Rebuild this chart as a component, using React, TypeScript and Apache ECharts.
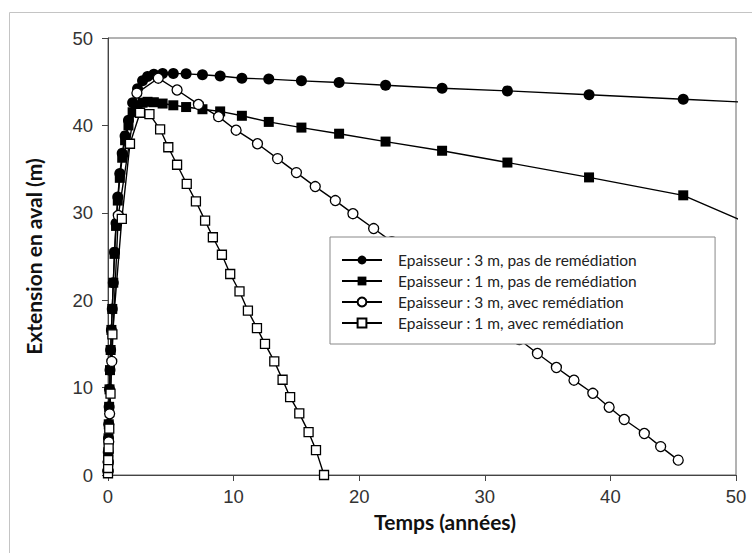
import React, { useEffect, useRef } from "react";
import * as echarts from "echarts";

// Temps (années) et extension en aval (m) pour chaque scénario
const tempsEp3Sans = [0, 0.01, 0.02, 0.04, 0.06, 0.09, 0.12, 0.16, 0.21, 0.27, 0.34, 0.42, 0.52, 0.64, 0.78, 0.94, 1.13, 1.36, 1.63, 1.96, 2.35, 2.75, 3.15, 3.65, 4.35, 5.2, 6.22, 7.52, 8.93, 10.66, 12.8, 15.4, 18.4, 22.1, 26.6, 31.8, 38.3, 45.8, 55];
const extEp3Sans = [0.5, 1.5, 2.6, 4.2, 5.8, 7.8, 9.8, 12.0, 14.3, 16.6, 19.0, 22.0, 25.5, 28.8, 31.8, 34.5, 36.8, 38.8, 40.6, 42.6, 44.2, 45.1, 45.6, 45.85, 45.95, 45.95, 45.9, 45.8, 45.65, 45.4, 45.3, 45.1, 44.9, 44.6, 44.25, 43.95, 43.5, 43.0, 42.35];

const tempsEp1Sans = [0, 0.01, 0.02, 0.04, 0.06, 0.09, 0.12, 0.16, 0.21, 0.27, 0.34, 0.42, 0.52, 0.64, 0.78, 0.94, 1.13, 1.36, 1.63, 1.96, 2.35, 2.75, 3.15, 3.65, 4.35, 5.2, 6.22, 7.52, 8.93, 10.66, 12.8, 15.4, 18.4, 22.1, 26.6, 31.8, 38.3, 45.8, 55];
const extEp1Sans = [0.5, 1.5, 2.6, 4.2, 5.8, 7.8, 9.8, 12.0, 14.3, 16.6, 19.0, 22.0, 25.3, 28.5, 31.4, 34.0, 36.3, 38.3, 40.0, 41.5, 42.3, 42.6, 42.7, 42.65, 42.5, 42.3, 42.1, 41.85, 41.6, 41.1, 40.4, 39.75, 39.05, 38.15, 37.1, 35.75, 34.05, 32.0, 26.3];

const tempsEp3Avec = [0, 0.02, 0.06, 0.13, 0.3, 0.82, 2.3, 4.0, 5.5, 7.2, 8.8, 10.2, 11.9, 13.5, 15.0, 16.5, 18.1, 19.5, 21.15, 22.6, 24.05, 25.5, 26.95, 28.4, 29.85, 31.3, 32.75, 34.19, 35.7, 37.1, 38.6, 39.9, 41.1, 42.7, 44.0, 45.4];
const extEp3Avec = [0.4, 1.5, 3.8, 7.0, 13.0, 29.7, 43.7, 45.4, 44.05, 42.4, 41.0, 39.45, 37.9, 36.2, 34.6, 33.0, 31.4, 29.9, 28.2, 26.7, 25.1, 23.5, 21.9, 20.3, 18.7, 17.1, 15.5, 13.9, 12.3, 10.85, 9.35, 7.75, 6.35, 4.75, 3.25, 1.7];

const tempsEp1Avec = [0, 0.01, 0.02, 0.05, 0.1, 0.2, 0.35, 1.1, 1.75, 2.55, 3.3, 4.15, 4.8, 5.5, 6.27, 7.0, 7.73, 8.35, 9.07, 9.73, 10.47, 11.14, 11.86, 12.5, 13.24, 13.9, 14.5, 15.23, 15.97, 16.56, 17.2];
const extEp1Avec = [0.2, 0.8, 1.7, 3.05, 5.3, 9.3, 16.1, 29.3, 37.9, 41.45, 41.3, 39.55, 37.5, 35.5, 33.3, 31.3, 29.1, 27.2, 25.2, 23.0, 21.0, 18.8, 16.8, 15.0, 13.0, 10.9, 8.9, 7.05, 4.9, 2.85, 0];

const seriesNames = [
  "Epaisseur : 3 m, pas de remédiation",
  "Epaisseur : 1 m, pas de remédiation",
  "Epaisseur : 3 m, avec remédiation",
  "Epaisseur : 1 m, avec remédiation",
];

const xTicks = { min: 0, max: 50, step: 10 };
const yTicks = { min: 0, max: 50, step: 10 };

function pairs(t: number[], v: number[]): number[][] {
  return t.map((x, i) => [x, v[i]]);
}

function lineSeries(name: string, data: number[][], symbol: string, size: number, filled: boolean) {
  return {
    name,
    type: "line",
    data,
    symbol,
    symbolSize: size,
    showSymbol: true,
    clip: true,
    itemStyle: {
      color: filled ? "#000" : "#fff",
      borderColor: "#000",
      borderWidth: filled ? 0 : 1.3,
    },
    lineStyle: { color: "#000", width: 1.4 },
    emphasis: { disabled: true },
  };
}

export default function App() {
  const ref = useRef<HTMLDivElement>(null);

  useEffect(() => {
    document.body.style.margin = "0";
    const chart = echarts.init(ref.current!, null, { renderer: "svg" });
    const axisLabelFont = { fontFamily: "Liberation Sans", fontSize: 18.5, color: "#333" };
    const titleFont = { fontFamily: "Lato", fontWeight: "bold" as const, fontSize: 21, color: "#111" };

    chart.setOption({
      animation: false,
      backgroundColor: "#fff",
      graphic: [
        {
          type: "rect",
          silent: true,
          z: -10,
          shape: { x: 9.5, y: 12.5, width: 760, height: 600 },
          style: { fill: "none", stroke: "#c4c4c4", lineWidth: 1 },
        },
      ],
      grid: {
        left: 108,
        right: 16,
        top: 38,
        bottom: 78,
        show: true,
        borderColor: "#666",
        borderWidth: 1,
      },
      xAxis: {
        type: "value",
        min: xTicks.min,
        max: xTicks.max,
        interval: xTicks.step,
        name: "Temps (années)",
        nameLocation: "middle",
        nameGap: 35,
        nameTextStyle: { ...titleFont, padding: [0, 0, 0, 46] },
        axisLine: { onZero: false, lineStyle: { color: "#444", width: 1 } },
        axisTick: { show: true, length: 6, lineStyle: { color: "#444" } },
        axisLabel: { ...axisLabelFont, margin: 12 },
        splitLine: { show: false },
      },
      yAxis: {
        type: "value",
        min: yTicks.min,
        max: yTicks.max,
        interval: yTicks.step,
        name: "Extension en aval (m)",
        nameLocation: "middle",
        nameGap: 64,
        nameTextStyle: titleFont,
        axisLine: { show: true, onZero: false, lineStyle: { color: "#444", width: 1 } },
        axisTick: { show: true, length: 6, lineStyle: { color: "#444" } },
        axisLabel: { ...axisLabelFont, margin: 15 },
        splitLine: { show: false },
      },
      legend: {
        orient: "vertical",
        left: 330,
        top: 237,
        padding: [15, 78, 13, 11],
        itemWidth: 40,
        itemHeight: 11,
        itemGap: 5,
        backgroundColor: "#fff",
        borderColor: "#888",
        borderWidth: 1,
        textStyle: {
          fontFamily: "Lato",
          fontSize: 15.5,
          lineHeight: 15,
          color: "#222",
          padding: [0, 0, 0, 11],
        },
        data: seriesNames,
      },
      series: [
        lineSeries(seriesNames[0], pairs(tempsEp3Sans, extEp3Sans), "circle", 11, true),
        lineSeries(seriesNames[1], pairs(tempsEp1Sans, extEp1Sans), "rect", 10, true),
        lineSeries(seriesNames[2], pairs(tempsEp3Avec, extEp3Avec), "circle", 10, false),
        lineSeries(seriesNames[3], pairs(tempsEp1Avec, extEp1Avec), "rect", 9, false),
      ],
    });
    return () => chart.dispose();
  }, []);

  return <div ref={ref} style={{ width: 752, height: 553 }} />;
}
